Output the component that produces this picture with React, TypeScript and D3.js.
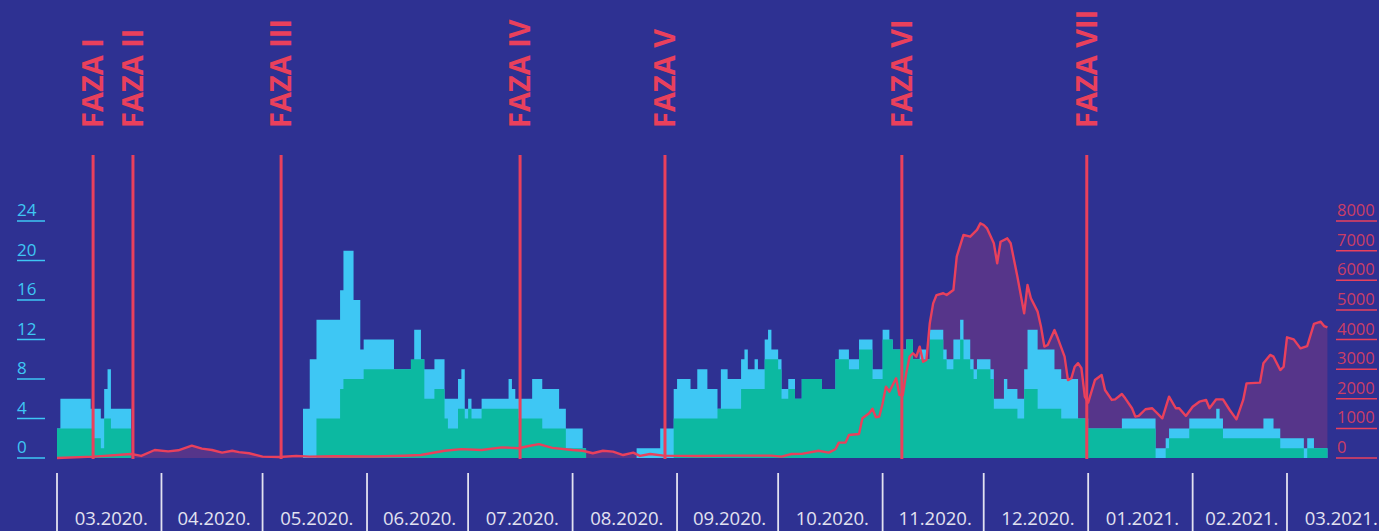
import React from 'react';
import * as d3 from 'd3';

const W = 1379;
const H = 531;

const monthStarts = ['2020-03-01','2020-04-01','2020-05-01','2020-06-01','2020-07-01','2020-08-01','2020-09-01','2020-10-01','2020-11-01','2020-12-01','2021-01-01','2021-02-01','2021-03-01'];
const monthEnds = ['2020-04-01','2020-05-01','2020-06-01','2020-07-01','2020-08-01','2020-09-01','2020-10-01','2020-11-01','2020-12-01','2021-01-01','2021-02-01','2021-03-01','2021-04-01'];
const monthLabels = ['03.2020.','04.2020.','05.2020.','06.2020.','07.2020.','08.2020.','09.2020.','10.2020.','11.2020.','12.2020.','01.2021.','02.2021.','03.2021.'];

const leftTicks = [0, 4, 8, 12, 16, 20, 24];
const rightTicks = [0, 1000, 2000, 3000, 4000, 5000, 6000, 7000, 8000];

const phaseNames = ['FAZA I','FAZA II','FAZA III','FAZA IV','FAZA V','FAZA VI','FAZA VII'];
const phaseDates = ['2020-03-11T17:00','2020-03-23T13:00','2020-05-06T12:00','2020-07-16T10:00','2020-08-28T10:00','2020-11-06T17:00','2020-12-31T14:00'];

// step series: [start date, value held until next entry]
const measuresAll: [string, number][] = [
  ['2020-03-01',3],['2020-03-02',6],['2020-03-11',5],['2020-03-14',4],['2020-03-15',7],['2020-03-16',9],['2020-03-17',5],['2020-03-23',0],
  ['2020-05-13',5],['2020-05-15',10],['2020-05-17',14],['2020-05-24',17],['2020-05-25',21],['2020-05-28',16],['2020-05-30',11],['2020-05-31',12],
  ['2020-06-09',9],['2020-06-15',13],['2020-06-17',10],['2020-06-18',9],['2020-06-21',10],['2020-06-24',6],['2020-06-28',8],['2020-06-29',9],['2020-06-30',5],
  ['2020-07-01',6],['2020-07-02',5],['2020-07-05',6],['2020-07-13',8],['2020-07-14',7],['2020-07-15',6],['2020-07-20',8],['2020-07-23',7],['2020-07-28',5],['2020-07-30',3],
  ['2020-08-04',1],['2020-08-05',0],['2020-08-20',1],['2020-08-27',3],['2020-08-31',7],
  ['2020-09-01',8],['2020-09-05',7],['2020-09-07',9],['2020-09-10',7],['2020-09-13',5],['2020-09-14',9],['2020-09-16',8],['2020-09-20',10],['2020-09-21',11],['2020-09-22',9],['2020-09-24',10],['2020-09-25',9],['2020-09-27',12],['2020-09-28',13],['2020-09-29',11],
  ['2020-10-01',10],['2020-10-02',7],['2020-10-04',8],['2020-10-06',6],['2020-10-08',8],['2020-10-14',7],['2020-10-18',10],['2020-10-19',11],['2020-10-22',10],['2020-10-25',12],['2020-10-29',9],
  ['2020-11-01',13],['2020-11-03',12],['2020-11-04',11],['2020-11-08',12],['2020-11-10',10],['2020-11-12',11],['2020-11-14',10],['2020-11-15',13],['2020-11-19',11],['2020-11-20',10],['2020-11-22',12],['2020-11-24',14],['2020-11-25',12],['2020-11-27',10],['2020-11-28',9],['2020-11-29',10],
  ['2020-12-03',9],['2020-12-04',6],['2020-12-07',8],['2020-12-08',7],['2020-12-11',6],['2020-12-13',9],['2020-12-14',13],['2020-12-17',11],['2020-12-22',9],['2020-12-24',8],['2020-12-29',4],
  ['2021-01-01',3],['2021-01-11',4],['2021-01-21',1],['2021-01-24',2],['2021-01-25',3],['2021-01-31',4],
  ['2021-02-08',5],['2021-02-09',4],['2021-02-10',3],['2021-02-22',4],['2021-02-25',3],['2021-02-27',2],
  ['2021-03-06',1],['2021-03-07',2],['2021-03-09',1],['2021-03-13',1]
];

const measuresStrict: [string, number][] = [
  ['2020-03-01',3],['2020-03-12',2],['2020-03-14',1],['2020-03-15',4],['2020-03-17',3],['2020-03-23',0],
  ['2020-05-17',4],['2020-05-24',7],['2020-05-25',8],['2020-05-31',9],
  ['2020-06-14',10],['2020-06-18',6],['2020-06-21',7],['2020-06-24',4],['2020-06-25',3],['2020-06-28',5],['2020-06-30',4],
  ['2020-07-01',5],['2020-07-02',4],['2020-07-05',5],['2020-07-16',4],['2020-07-23',3],['2020-07-30',1],
  ['2020-08-05',0],['2020-08-31',4],
  ['2020-09-13',5],['2020-09-20',7],['2020-09-27',10],
  ['2020-10-01',9],['2020-10-02',6],['2020-10-04',7],['2020-10-06',6],['2020-10-08',8],['2020-10-14',7],['2020-10-18',10],['2020-10-22',9],['2020-10-25',11],['2020-10-29',8],
  ['2020-11-01',12],['2020-11-04',11],['2020-11-08',12],['2020-11-10',10],['2020-11-15',12],['2020-11-19',10],['2020-11-20',9],['2020-11-22',10],['2020-11-24',12],['2020-11-25',10],['2020-11-27',9],['2020-11-28',8],['2020-11-29',9],
  ['2020-12-03',8],['2020-12-04',5],['2020-12-11',4],['2020-12-13',7],['2020-12-17',5],['2020-12-24',4],
  ['2021-01-01',3],['2021-01-21',0],['2021-01-24',1],['2021-01-25',2],['2021-01-31',3],
  ['2021-02-10',2],['2021-02-27',1],
  ['2021-03-06',0],['2021-03-07',1],['2021-03-13',1]
];

const dailyCases: [string, number][] = [
  ['2020-03-01',0],['2020-03-12',45],['2020-03-23',135],['2020-03-26',70],['2020-03-30',270],
  ['2020-04-03',225],['2020-04-06',260],['2020-04-10',415],['2020-04-13',315],['2020-04-16',270],['2020-04-19',180],['2020-04-22',245],['2020-04-24',200],['2020-04-27',160],
  ['2020-05-01',45],['2020-05-06',35],['2020-05-11',70],['2020-05-15',45],['2020-05-22',60],
  ['2020-06-03',50],['2020-06-12',75],['2020-06-17',100],['2020-06-24',245],['2020-06-29',300],
  ['2020-07-05',270],['2020-07-11',360],['2020-07-16',330],['2020-07-19',405],['2020-07-22',470],['2020-07-26',340],
  ['2020-08-01',270],['2020-08-04',245],['2020-08-07',160],['2020-08-10',245],['2020-08-13',215],['2020-08-16',100],['2020-08-19',180],['2020-08-21',70],['2020-08-24',135],['2020-08-28',80],
  ['2020-09-07',70],['2020-09-17',80],['2020-09-29',80],
  ['2020-10-02',45],['2020-10-05',135],['2020-10-08',140],['2020-10-13',245],['2020-10-16',180],['2020-10-18',295],['2020-10-19',520],['2020-10-21',520],['2020-10-22',775],['2020-10-25',810],['2020-10-26',1340],['2020-10-28',1510],['2020-10-29',1665],['2020-10-30',1375],['2020-10-31',1395],
  ['2020-11-01',1845],['2020-11-02',2410],['2020-11-03',2240],['2020-11-05',2690],['2020-11-06',2125],['2020-11-07',2125],['2020-11-08',2860],['2020-11-09',3420],['2020-11-10',3535],['2020-11-11',3420],['2020-11-12',3760],['2020-11-13',3250],['2020-11-14',3310],['2020-11-15',4550],['2020-11-16',5220],['2020-11-17',5500],['2020-11-19',5560],['2020-11-20',5500],['2020-11-22',5670],['2020-11-23',6800],['2020-11-25',7530],['2020-11-27',7470],['2020-11-29',7700],['2020-11-30',7920],
  ['2020-12-01',7865],['2020-12-02',7750],['2020-12-04',7250],['2020-12-05',6575],['2020-12-06',7300],['2020-12-08',7415],['2020-12-09',7250],['2020-12-11',6120],['2020-12-13',4885],['2020-12-14',5840],['2020-12-15',5390],['2020-12-17',4940],['2020-12-18',4430],['2020-12-19',3760],['2020-12-20',3815],['2020-12-22',4320],['2020-12-23',4040],['2020-12-25',3420],['2020-12-26',2630],['2020-12-27',2690],['2020-12-28',3080],['2020-12-29',3200],['2020-12-30',3030],['2020-12-31',2070],
  ['2021-01-01',1870],['2021-01-03',2630],['2021-01-05',2800],['2021-01-06',2295],['2021-01-08',1960],['2021-01-09',1980],['2021-01-11',2160],['2021-01-12',2015],['2021-01-14',1680],['2021-01-15',1395],['2021-01-16',1420],['2021-01-18',1645],['2021-01-20',1680],['2021-01-23',1340],['2021-01-25',2070],['2021-01-27',1680],['2021-01-28',1680],['2021-01-30',1420],
  ['2021-02-01',1730],['2021-02-03',1900],['2021-02-05',1960],['2021-02-06',1680],['2021-02-08',1980],['2021-02-10',1980],['2021-02-12',1620],['2021-02-14',1305],['2021-02-16',1960],['2021-02-17',2520],['2021-02-21',2545],['2021-02-22',3200],['2021-02-24',3480],['2021-02-25',3420],['2021-02-27',2970],['2021-02-28',3080],
  ['2021-03-01',4075],['2021-03-03',4005],['2021-03-05',3700],['2021-03-07',3780],['2021-03-09',4525],['2021-03-11',4600],['2021-03-12',4455],['2021-03-13',4410]
];

const BG = '#2E3192';
const CYAN = '#3EC7F4';
const GREEN = '#0CB9A1';
const RED = '#E9405C';
const PURPLE = '#56358A';
const LIGHT = '#E2E2F0';

const parseDay = d3.timeParse('%Y-%m-%d');
const parseTime = d3.timeParse('%Y-%m-%dT%H:%M');

export default function App() {
  const x = d3.scaleTime()
    .domain([parseDay('2020-03-01') as Date, parseDay('2021-03-01') as Date])
    .range([57, 1287]);
  const yL = d3.scaleLinear().domain([0, 24]).range([458, 221]);
  const yR = d3.scaleLinear().domain([0, 8000]).range([458, 221]);

  const stepArea = d3.area<[string, number]>()
    .x(d => x(parseDay(d[0]) as Date))
    .y0(yL(0))
    .y1(d => yL(d[1]))
    .curve(d3.curveStepAfter);

  const casesArea = d3.area<[string, number]>()
    .x(d => x(parseDay(d[0]) as Date))
    .y0(yR(0))
    .y1(d => yR(d[1]));
  const casesLine = d3.line<[string, number]>()
    .x(d => x(parseDay(d[0]) as Date))
    .y(d => yR(d[1]));

  const font = "'Open Sans', 'Noto Sans', sans-serif";

  return (
    <svg width={W} height={H} style={{ position: 'fixed', left: 0, top: 0, display: 'block' }}>
      <rect x={0} y={0} width={W} height={H} fill={BG} />

      {/* cases area (behind bars) */}
      <path d={casesArea(dailyCases) || ''} fill={PURPLE} />

      {/* measures */}
      <path d={stepArea(measuresAll) || ''} fill={CYAN} />
      <path d={stepArea(measuresStrict) || ''} fill={GREEN} />

      {/* cases line */}
      <path d={casesLine(dailyCases) || ''} fill="none" stroke={RED} strokeWidth={2.4} strokeLinejoin="round" />

      {/* left axis */}
      {leftTicks.map(t => (
        <g key={'l' + t}>
          <text x={17} y={yL(t) - 5} fill={CYAN} fontFamily={font} fontSize={17}>{t}</text>
          <line x1={17} x2={45} y1={yL(t)} y2={yL(t)} stroke={CYAN} strokeWidth={1.5} />
        </g>
      ))}

      {/* right axis */}
      {rightTicks.map(t => (
        <g key={'r' + t}>
          <text x={1337} y={yR(t) - 5} fill={RED} fillOpacity={0.85} fontFamily={font} fontSize={16.5}>{t}</text>
          <line x1={1336} x2={1377} y1={yR(t)} y2={yR(t)} stroke={RED} strokeWidth={1.5} />
        </g>
      ))}

      {/* month axis */}
      {monthStarts.map((m, i) => {
        const x0 = x(parseDay(m) as Date);
        const x1 = x(parseDay(monthEnds[i]) as Date);
        return (
          <g key={'m' + m}>
            <line x1={x0} x2={x0} y1={473} y2={H} stroke={LIGHT} strokeWidth={1.8} />
            <text x={(x0 + x1) / 2 + 2} y={525} fill={LIGHT} fontFamily={font} fontSize={18.5} textAnchor="middle">{monthLabels[i]}</text>
          </g>
        );
      })}

      {/* phases */}
      {phaseDates.map((p, i) => {
        const px = x(parseTime(p) as Date);
        return (
          <g key={'p' + i}>
            <line x1={px} x2={px} y1={155} y2={459} stroke={RED} strokeWidth={3} />
            <text transform={`translate(${px + 10},128) rotate(-90)`} fill={RED} fontFamily={font} fontWeight={700} fontSize={29}>{phaseNames[i]}</text>
          </g>
        );
      })}
    </svg>
  );
}
